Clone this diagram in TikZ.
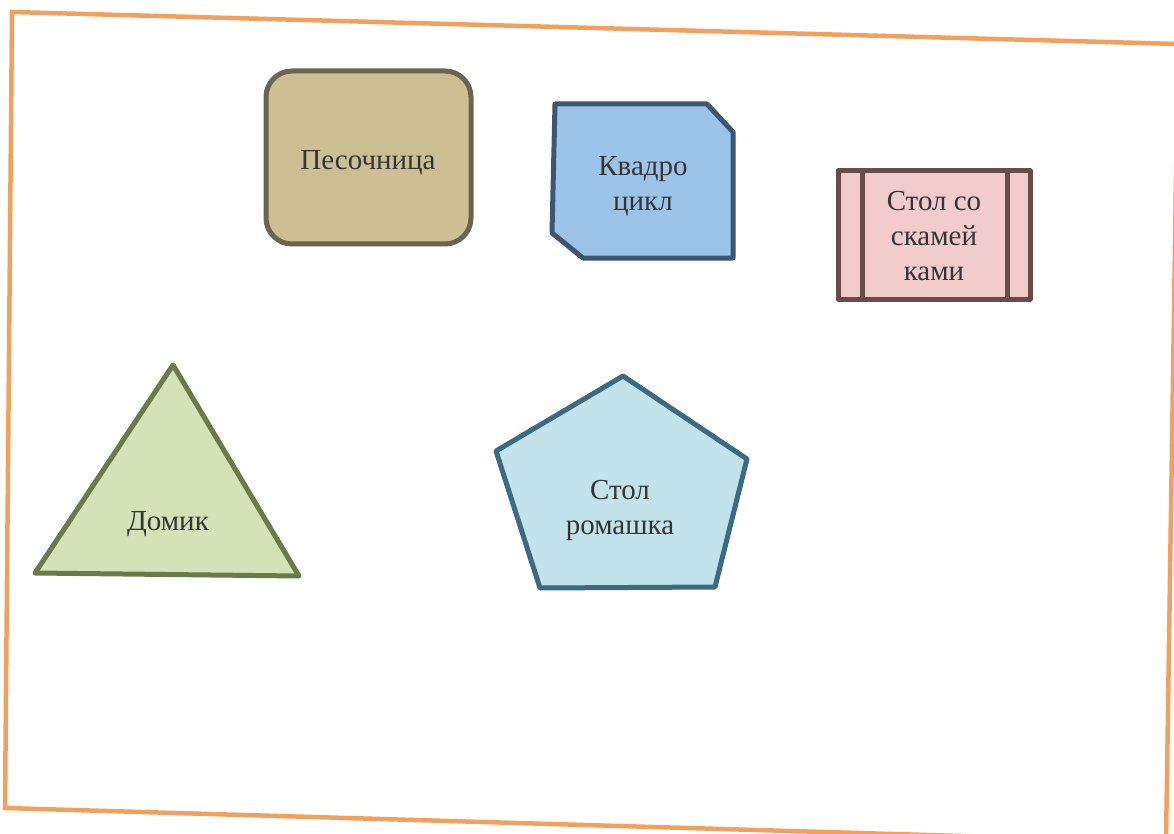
\documentclass[tikz,border=0pt]{standalone}
\usepackage{fontspec}
\setmainfont{Liberation Serif}
\definecolor{frameorange}{HTML}{F2A05E}
\definecolor{sandfill}{HTML}{CBBF93}
\definecolor{sanddraw}{HTML}{6C6452}
\definecolor{quadfill}{HTML}{9CC4E8}
\definecolor{quaddraw}{HTML}{3E5673}
\definecolor{tablefill}{HTML}{F2CBCD}
\definecolor{tabledraw}{HTML}{6A4A4A}
\definecolor{housefill}{HTML}{D5E2B8}
\definecolor{housedraw}{HTML}{6A7A48}
\definecolor{pentfill}{HTML}{C2E2EC}
\definecolor{pentdraw}{HTML}{3C6A80}
\definecolor{labeltext}{HTML}{353535}
\tikzset{
  shapeline/.style={line width=5pt, line join=round},
  lbl/.style={font=\fontsize{29}{35}\selectfont, text=labeltext, align=center, inner sep=0pt}
}
\begin{document}
\begin{tikzpicture}[x=1pt,y=-1pt]
\useasboundingbox (0,0) rectangle (1174,834);
\fill[white] (0,0) rectangle (1174,834);
% orange frame
\draw[frameorange, line width=4.5pt, line join=miter]
  (12,12) -- (1178,44) -- (1166,842) -- (5,808) -- cycle;
% sandbox
\draw[shapeline, draw=sanddraw, fill=sandfill, rounded corners=26pt] (266,71) rectangle (471,244);
\node[lbl] (sand) at (368,163) {Песочница};
% quad bike
\draw[shapeline, draw=quaddraw, fill=quadfill]
  (555,104) -- (707,104) -- (733,132) -- (733,258) -- (583,258) -- (552,233) -- cycle;
\node[lbl] (quad) at (643,186) {Квадро\\цикл};
% table with benches
\draw[shapeline, draw=tabledraw, fill=tablefill] (838,171) rectangle (1030,299);
\draw[shapeline, draw=tabledraw] (862,171) -- (862,299);
\draw[shapeline, draw=tabledraw] (1007,171) -- (1007,299);
\node[lbl] (table) at (934,236) {Стол со\\скамей\\ками};
% house triangle
\draw[shapeline, draw=housedraw, fill=housefill]
  (173,365) -- (299,576) -- (35,573) -- cycle;
\node[lbl] (house) at (168,524) {Домик};
% pentagon
\draw[shapeline, draw=pentdraw, fill=pentfill]
  (623,376) -- (747,459) -- (715,587) -- (540,588) -- (496,451) -- cycle;
\node[lbl] (daisy) at (620,510) {Стол\\ромашка};
\end{tikzpicture}
\end{document}
